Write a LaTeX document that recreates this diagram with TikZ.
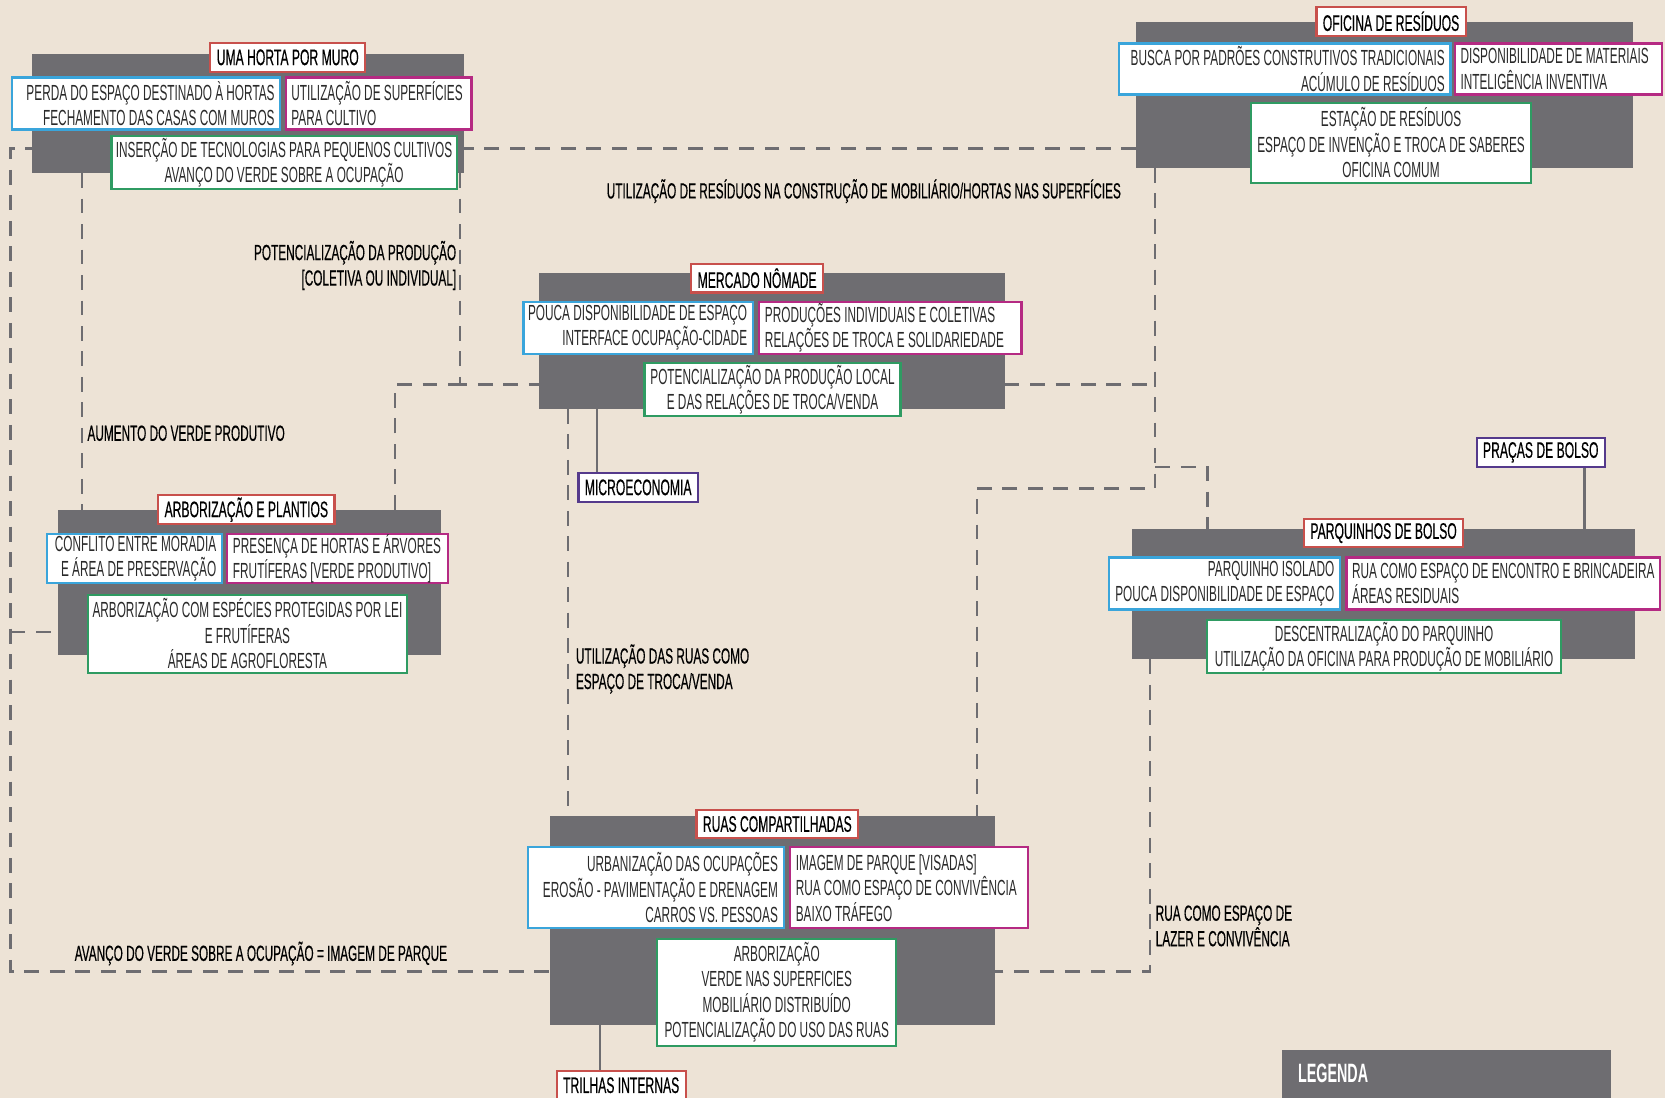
\documentclass[tikz,border=0pt]{standalone}
\usepackage{fontspec}
\setmainfont{Liberation Sans}[FakeStretch=0.54]
\newfontfamily\ttlfont{Liberation Sans}[FakeStretch=0.54,FakeBold=0.4]
\usetikzlibrary{fit,calc}
\pgfdeclarelayer{bg}
\pgfsetlayers{bg,main}
\definecolor{bgc}{HTML}{EDE3D6}
\definecolor{boxgray}{HTML}{6E6D71}
\definecolor{cred}{HTML}{C8504C}
\definecolor{cblue}{HTML}{3AA5DB}
\definecolor{cmag}{HTML}{B52A83}
\definecolor{cgreen}{HTML}{2F9B62}
\definecolor{cpurple}{HTML}{553A8C}
\definecolor{txtc}{HTML}{2A2A2A}
\tikzset{
  graybox/.style={fill=boxgray, draw=none, inner sep=0pt, outer sep=0pt},
  cframe/.style={draw=#1, fill=white, line width=1pt, inner sep=0pt, outer sep=0pt},
  txt/.style={inner sep=0pt, font=\fontsize{10.3}{12}\selectfont, text=txtc},
  ttl/.style={draw=#1, fill=white, line width=1pt, inner xsep=3pt, inner ysep=0pt, minimum height=13.5pt, font=\ttlfont\fontsize{10.6}{12}\selectfont, text=black},
  lbl/.style={inner sep=0pt, font=\ttlfont\fontsize{10.3}{12}\selectfont, text=black},
  dashc/.style={draw=boxgray, line width=1.1pt, dash pattern=on 7pt off 5pt},
  solidc/.style={draw=boxgray, line width=1.2pt},
}
\begin{document}
\begin{tikzpicture}[x=0.5pt,y=-0.5pt]
\useasboundingbox (0,0) rectangle (1568,1034);

% ---------- UMA HORTA POR MURO ----------
\node[graybox, fit={(30,51) (437,163)}] (A) {};
\node[ttl=cred] (At) at (271,54) {UMA HORTA POR MURO};
\node[cframe=cblue, fit={(11,73) (264,122)}] (Ab) {};
\node[txt, align=right, anchor=east] (Abt) at ([xshift=-2.5pt]Ab.east) {PERDA DO ESPAÇO DESTINADO À HORTAS\\FECHAMENTO DAS CASAS COM MUROS};
\node[cframe=cmag, fit={(269,73) (444,122)}] (Am) {};
\node[txt, align=left, anchor=west] (Amt) at ([xshift=2.5pt]Am.west) {UTILIZAÇÃO DE SUPERFÍCIES\\PARA CULTIVO};
\node[cframe=cgreen, fit={(105,128) (430,178)}] (Ag) {};
\node[txt, align=center] (Agt) at (Ag.center) {INSERÇÃO DE TECNOLOGIAS PARA PEQUENOS CULTIVOS\\AVANÇO DO VERDE SOBRE A OCUPAÇÃO};

% ---------- OFICINA DE RESIDUOS ----------
\node[graybox, fit={(1070,21) (1538,158)}] (B) {};
\node[ttl=cred] (Bt) at (1310,20) {OFICINA DE RESÍDUOS};
\node[cframe=cblue, fit={(1054,41) (1366,89)}] (Bb) {};
\node[txt, align=right, anchor=east] (Bbt) at ([xshift=-2.5pt]Bb.east) {BUSCA POR PADRÕES CONSTRUTIVOS TRADICIONAIS\\ACÚMULO DE RESÍDUOS};
\node[cframe=cmag, fit={(1370,41) (1565,89)}] (Bm) {};
\node[txt, align=left, anchor=west] (Bmt) at ([xshift=2.5pt]Bm.west) {DISPONIBILIDADE DE MATERIAIS\\INTELIGÊNCIA INVENTIVA};
\node[cframe=cgreen, fit={(1178,97) (1442,172)}] (Bg) {};
\node[txt, align=center] (Bgt) at (Bg.center) {ESTAÇÃO DE RESÍDUOS\\ESPAÇO DE INVENÇÃO E TROCA DE SABERES\\OFICINA COMUM};

% ---------- MERCADO NOMADE ----------
\node[graybox, fit={(508,257) (946,385)}] (C) {};
\node[ttl=cred] (Ct) at (713,262) {MERCADO NÔMADE};
\node[cframe=cblue, fit={(493,284) (709,333)}] (Cb) {};
\node[txt, align=right, anchor=east] (Cbt) at ([xshift=-2.5pt]Cb.east) {POUCA DISPONIBILIDADE DE ESPAÇO\\INTERFACE OCUPAÇÃO-CIDADE};
\node[cframe=cmag, fit={(715,284) (962,333)}] (Cm) {};
\node[txt, align=left, anchor=west] (Cmt) at ([xshift=2.5pt]Cm.west) {PRODUÇÕES INDIVIDUAIS E COLETIVAS\\RELAÇÕES DE TROCA E SOLIDARIEDADE};
\node[cframe=cgreen, fit={(607,342) (848,392)}] (Cg) {};
\node[txt, align=center] (Cgt) at (Cg.center) {POTENCIALIZAÇÃO DA PRODUÇÃO LOCAL\\E DAS RELAÇÕES DE TROCA/VENDA};
\node[ttl=cpurple] (Mi) at (601,459) {MICROECONOMIA};

% ---------- ARBORIZACAO E PLANTIOS ----------
\node[graybox, fit={(55,480) (415,617)}] (D) {};
\node[ttl=cred] (Dt) at (232,480) {ARBORIZAÇÃO E PLANTIOS};
\node[cframe=cblue, fit={(44,503) (209,549)}] (Db) {};
\node[txt, align=right, anchor=east] (Dbt) at ([xshift=-2.5pt]Db.east) {CONFLITO ENTRE MORADIA\\E ÁREA DE PRESERVAÇÃO};
\node[cframe=cmag, fit={(214,503) (422,549)}] (Dm) {};
\node[txt, align=left, anchor=west] (Dmt) at ([xshift=2.5pt]Dm.west) {PRESENÇA DE HORTAS E ÁRVORES\\FRUTÍFERAS [VERDE PRODUTIVO]};
\node[cframe=cgreen, fit={(83,560) (383,634)}] (Dg) {};
\node[txt, align=center] (Dgt) at (Dg.center) {ARBORIZAÇÃO COM ESPÉCIES PROTEGIDAS POR LEI\\E FRUTÍFERAS\\ÁREAS DE AGROFLORESTA};

% ---------- PARQUINHOS DE BOLSO ----------
\node[graybox, fit={(1066,498) (1540,621)}] (E) {};
\node[ttl=cred] (Et) at (1303,502) {PARQUINHOS DE BOLSO};
\node[cframe=cblue, fit={(1044,525) (1262,574)}] (Eb) {};
\node[txt, align=right, anchor=east] (Ebt) at ([xshift=-2.5pt]Eb.east) {PARQUINHO ISOLADO\\POUCA DISPONIBILIDADE DE ESPAÇO};
\node[cframe=cmag, fit={(1268,525) (1563,574)}] (Em) {};
\node[txt, align=left, anchor=west] (Emt) at ([xshift=2.5pt]Em.west) {RUA COMO ESPAÇO DE ENCONTRO E BRINCADEIRA\\ÁREAS RESIDUAIS};
\node[cframe=cgreen, fit={(1137,584) (1470,634)}] (Eg) {};
\node[txt, align=center] (Egt) at (Eg.center) {DESCENTRALIZAÇÃO DO PARQUINHO\\UTILIZAÇÃO DA OFICINA PARA PRODUÇÃO DE MOBILIÁRIO};
\node[ttl=cpurple] (Pr) at (1451,426) {PRAÇAS DE BOLSO};

% ---------- RUAS COMPARTILHADAS ----------
\node[graybox, fit={(518,768) (937,965)}] (F) {};
\node[ttl=cred] (Ft) at (732,776) {RUAS COMPARTILHADAS};
\node[cframe=cblue, fit={(497,798) (738,874)}] (Fb) {};
\node[txt, align=right, anchor=east] (Fbt) at ([xshift=-2.5pt]Fb.east) {URBANIZAÇÃO DAS OCUPAÇÕES\\EROSÃO - PAVIMENTAÇÃO E DRENAGEM\\CARROS VS. PESSOAS};
\node[cframe=cmag, fit={(744,798) (968,874)}] (Fm) {};
\node[txt, align=left, anchor=west] (Fmt) at ([xshift=2.5pt]Fm.west) {IMAGEM DE PARQUE [VISADAS]\\RUA COMO ESPAÇO DE CONVIVÊNCIA\\BAIXO TRÁFEGO};
\node[cframe=cgreen, fit={(619,884) (844,985)}] (Fg) {};
\node[txt, align=center] (Fgt) at (Fg.center) {ARBORIZAÇÃO\\VERDE NAS SUPERFICIES\\MOBILIÁRIO DISTRIBUÍDO\\POTENCIALIZAÇÃO DO USO DAS RUAS};
\node[ttl=cred] (Tr) at (585,1022) {TRILHAS INTERNAS};

% ---------- LEGENDA ----------
\node[graybox, fit={(1207,989) (1517,1050)}] (Lg) {};
\node[inner sep=0pt, anchor=west, text=white, font=\bfseries\fontsize{12.5}{14}\selectfont] (Lgt) at (1222,1011) {LEGENDA};

% ---------- connector labels ----------
\node[lbl, anchor=west] (L1) at (571,180) {UTILIZAÇÃO DE RESÍDUOS NA CONSTRUÇÃO DE MOBILIÁRIO/HORTAS NAS SUPERFÍCIES};
\node[lbl, align=right, anchor=east] (L2) at (430,250) {POTENCIALIZAÇÃO DA PRODUÇÃO\\{[}COLETIVA OU INDIVIDUAL{]}};
\node[lbl, anchor=west] (L3) at (82,408) {AUMENTO DO VERDE PRODUTIVO};
\node[lbl, align=left, anchor=west] (L4) at (542,630) {UTILIZAÇÃO DAS RUAS COMO\\ESPAÇO DE TROCA/VENDA};
\node[lbl, align=left, anchor=west] (L5) at (1088,872) {RUA COMO ESPAÇO DE\\LAZER E CONVIVÊNCIA};
\node[lbl, anchor=west] (L6) at (70,898) {AVANÇO DO VERDE SOBRE A OCUPAÇÃO = IMAGEM DE PARQUE};

% ---------- bend points ----------
\coordinate (k1) at (10,140);
\coordinate (k2) at (10,915);
\coordinate (k3) at (10,595);
\coordinate (k4) at (77,300);
\coordinate (k5) at (433,362);
\coordinate (k6) at (372,362);
\coordinate (k7) at (1088,362);
\coordinate (k8) at (1088,440);
\coordinate (k9) at (1137,440);
\coordinate (k10) at (1088,460);
\coordinate (k11) at (920,460);
\coordinate (k12) at (535,600);
\coordinate (k13) at (1083,915);
\coordinate (s1) at (562,0);
\coordinate (s2) at (1492,0);
\coordinate (s3) at (565,0);

\begin{pgfonlayer}{bg}
\fill[bgc] (0,0) rectangle (1568,1034);
% dashed connectors
\draw[dashc] (k1 -| B.west) -- (k1) -- (k2) -- (k2 -| F.west);
\draw[dashc] (k3) -- (k3 -| D.west);
\draw[dashc] (A.south -| k4) -- (D.north -| k4);
\draw[dashc] (k5 |- A.south) -- (k5) -- (k5 -| C.west);
\draw[dashc] (k6 |- D.north) -- (k6) -- (k5);
\draw[dashc] (C.east |- k7) -- (k7);
\draw[dashc] (B.south -| k7) -- (k10) -- (k11) -- (F.north -| k11);
\draw[dashc] (k8) -- (k9) -- (E.north -| k9);
\draw[dashc] (C.south -| k12) -- (F.north -| k12);
\draw[dashc] (E.south -| k13) -- (k13) -- (k13 -| F.east);
% solid connectors
\draw[solidc] (C.south -| s1) -- (Mi.north -| s1);
\draw[solidc] (Pr.south -| s2) -- (E.north -| s2);
\draw[solidc] (F.south -| s3) -- (Tr.north -| s3);
\end{pgfonlayer}
\end{tikzpicture}
\end{document}
